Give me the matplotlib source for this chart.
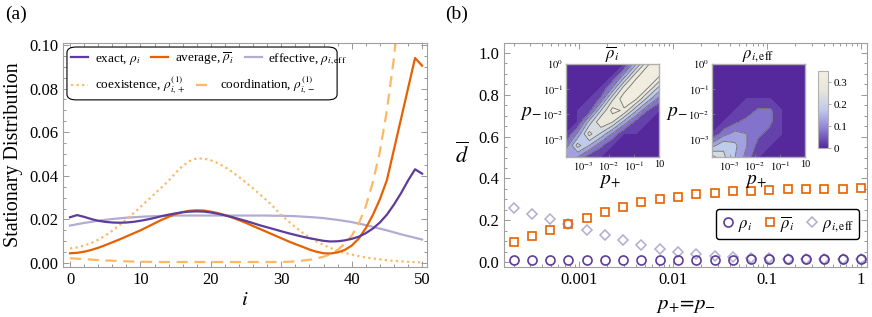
import numpy as np
import matplotlib
matplotlib.use('Agg')
import matplotlib.pyplot as plt
from matplotlib.colors import LinearSegmentedColormap, Normalize
from matplotlib.patches import FancyBboxPatch
from matplotlib.ticker import MultipleLocator, FixedLocator, NullFormatter, LogLocator, FormatStrFormatter
import matplotlib.cm as cm

plt.rcParams['font.family'] = ['Liberation Serif', 'DejaVu Serif']
plt.rcParams['mathtext.fontset'] = 'stix'

# ---- panel (a): stationary distributions ----
i_vals = np.arange(51)
exact = [0.0210, 0.0220, 0.0212, 0.0202, 0.0194, 0.0189, 0.0186, 0.0185, 0.0186, 0.0189,
         0.0194, 0.0200, 0.0207, 0.0215, 0.0222, 0.0228, 0.0233, 0.0236, 0.0237, 0.0236,
         0.0232, 0.0226, 0.0219, 0.0211, 0.0202, 0.0193, 0.0183, 0.0173, 0.0164, 0.0155,
         0.0146, 0.0137, 0.0129, 0.0121, 0.0114, 0.0108, 0.0102, 0.0099, 0.0100, 0.0104,
         0.0111, 0.0121, 0.0137, 0.0158, 0.0186, 0.0222, 0.0268, 0.0320, 0.0378, 0.0430, 0.0410]
average = [0.0045, 0.0047, 0.0052, 0.0060, 0.0070, 0.0082, 0.0095, 0.0108, 0.0122, 0.0136,
           0.0150, 0.0166, 0.0182, 0.0198, 0.0212, 0.0225, 0.0234, 0.0240, 0.0242, 0.0241,
           0.0236, 0.0229, 0.0220, 0.0209, 0.0197, 0.0184, 0.0170, 0.0156, 0.0142, 0.0128,
           0.0114, 0.0100, 0.0087, 0.0075, 0.0062, 0.0052, 0.0045, 0.0044, 0.0049, 0.0060,
           0.0080, 0.0112, 0.0160, 0.0220, 0.0292, 0.0380, 0.0520, 0.0660, 0.0800, 0.0940, 0.0905]
effective = [0.0172, 0.0178, 0.0184, 0.0189, 0.0194, 0.0198, 0.0202, 0.0205, 0.0208, 0.0210,
             0.0212, 0.0214, 0.0215, 0.0216, 0.0217, 0.0218, 0.0218, 0.0218, 0.0218, 0.0218,
             0.0218, 0.0218, 0.0218, 0.0218, 0.0218, 0.0218, 0.0218, 0.0218, 0.0218, 0.0217,
             0.0217, 0.0216, 0.0215, 0.0213, 0.0211, 0.0209, 0.0206, 0.0202, 0.0198, 0.0193,
             0.0188, 0.0181, 0.0174, 0.0166, 0.0158, 0.0150, 0.0141, 0.0132, 0.0124, 0.0116, 0.0108]
coexist = [0.0067, 0.0072, 0.0080, 0.0092, 0.0107, 0.0126, 0.0148, 0.0173, 0.0200, 0.0228,
           0.0257, 0.0287, 0.0317, 0.0347, 0.0377, 0.0414, 0.0445, 0.0468, 0.0480, 0.0479,
           0.0471, 0.0458, 0.0440, 0.0419, 0.0395, 0.0369, 0.0342, 0.0314, 0.0286, 0.0254,
           0.0220, 0.0192, 0.0165, 0.0140, 0.0118, 0.0099, 0.0083, 0.0069, 0.0057, 0.0047,
           0.0039, 0.0032, 0.0026, 0.0021, 0.0017, 0.0013, 0.0010, 0.0008, 0.0006, 0.0004, 0.0003]
coord = [0.0022, 0.0020, 0.0018, 0.0016, 0.0014, 0.0012, 0.0011, 0.0009, 0.0008, 0.0007,
         0.0006, 0.0006, 0.0005, 0.0005, 0.0005, 0.0005, 0.0005, 0.0005, 0.0005, 0.0005,
         0.0005, 0.0005, 0.0005, 0.0005, 0.0005, 0.0005, 0.0005, 0.0005, 0.0005, 0.0005,
         0.0005, 0.0006, 0.0008, 0.0011, 0.0015, 0.0021, 0.0029, 0.0041, 0.0060, 0.0088,
         0.0125, 0.0180, 0.0260, 0.0370, 0.0510, 0.0700, 0.0940, 0.1250, 0.1700, 0.2300, 0.3000]

# ---- panel (b): mean d vs p+=p- ----
p_vals = [0.0002, 0.000312, 0.000489, 0.000766, 0.0012, 0.00188, 0.00294, 0.0046, 0.00721, 0.0113,
          0.0177, 0.0277, 0.0433, 0.0679, 0.106, 0.166, 0.261, 0.408, 0.639, 1.0]
d_exact = [0.008, 0.008, 0.008, 0.008, 0.008, 0.009, 0.009, 0.009, 0.010, 0.010,
           0.010, 0.011, 0.011, 0.012, 0.012, 0.013, 0.013, 0.014, 0.015, 0.016]
d_avg = [0.095, 0.125, 0.155, 0.183, 0.210, 0.240, 0.263, 0.285, 0.300, 0.313,
         0.325, 0.332, 0.338, 0.342, 0.345, 0.347, 0.348, 0.349, 0.350, 0.352]
d_eff = [0.256, 0.229, 0.205, 0.181, 0.154, 0.130, 0.106, 0.082, 0.062, 0.048,
         0.036, 0.030, 0.025, 0.021, 0.018, 0.016, 0.015, 0.014, 0.014, 0.014]

# inset grids, log10(p+) columns, log10(p-) rows
log_p = [-3.7, -3.24, -2.78, -2.31, -1.85, -1.39, -0.93, -0.46, 0.0]
grid_avg = [[0.16, 0.10, 0.02, 0, 0, 0, 0, 0, 0],
            [0.07, 0.22, 0.15, 0.06, 0, 0, 0, 0, 0],
            [0, 0.11, 0.27, 0.19, 0.09, 0, 0, 0, 0],
            [0, 0, 0.17, 0.30, 0.25, 0.13, 0.03, 0, 0],
            [0, 0, 0.02, 0.20, 0.32, 0.29, 0.16, 0.05, 0],
            [0, 0, 0, 0.06, 0.24, 0.335, 0.31, 0.18, 0.08],
            [0, 0, 0, 0, 0.10, 0.27, 0.34, 0.31, 0.19],
            [0, 0, 0, 0, 0, 0.12, 0.28, 0.345, 0.31],
            [0, 0, 0, 0, 0, 0, 0.14, 0.29, 0.345]]
grid_eff = [[0.27, 0.21, 0.15, 0.08, 0, 0, 0, 0, 0],
            [0.13, 0.19, 0.16, 0.10, 0.03, 0, 0, 0, 0],
            [0, 0.08, 0.12, 0.10, 0.06, 0.03, 0, 0, 0],
            [0, 0, 0.04, 0.07, 0.07, 0.06, 0, 0, 0],
            [0, 0, 0, 0.02, 0.06, 0.06, 0, 0, 0],
            [0, 0, 0, 0, 0, 0, 0, 0, 0],
            [0, 0, 0, 0, 0, 0, 0, 0, 0],
            [0, 0, 0, 0, 0, 0, 0, 0, 0],
            [0, 0, 0, 0, 0, 0, 0, 0, 0]]

c_purple = '#5e3c99'
c_orange = '#e66101'
c_lav = '#b2abd2'
c_light = '#fdb863'
frame_c = '#a0a0a0'

fig = plt.figure(figsize=(8.72, 3.17), dpi=100)


def style_frame(ax):
    for s in ax.spines.values():
        s.set_color(frame_c)
        s.set_linewidth(0.8)
    ax.tick_params(which='both', direction='in', top=True, right=True, color='#888888',
                   labelsize=12, width=0.6)
    ax.tick_params(which='major', length=4)
    ax.tick_params(which='minor', length=2)


# ---------- (a) ----------
ax1 = fig.add_axes([0.0722, 0.1577, 0.4175, 0.7067])
ax1.plot(i_vals, effective, color=c_lav, lw=1.6)
ax1.plot(i_vals, coexist, color=c_light, lw=1.6, ls=(0, (1, 1.5)))
ax1.plot(i_vals, coord, color=c_light, lw=1.6, ls=(0, (5, 3)))
ax1.plot(i_vals, average, color=c_orange, lw=1.6)
ax1.plot(i_vals, exact, color=c_purple, lw=1.6)
ax1.set_xlim(-1, 50.7)
ax1.set_ylim(-0.0018, 0.1009)
ax1.xaxis.set_major_locator(MultipleLocator(10))
ax1.xaxis.set_minor_locator(MultipleLocator(2))
ax1.yaxis.set_major_locator(MultipleLocator(0.02))
ax1.yaxis.set_minor_locator(MultipleLocator(0.005))
ax1.yaxis.set_major_formatter(FormatStrFormatter('%.2f'))
style_frame(ax1)
ax1.set_xlabel(r'$i$', fontsize=15, labelpad=2)
ax1.set_ylabel('Stationary Distribution', fontsize=14.5, labelpad=4)

lh = ax1.get_lines()
leg1 = ax1.legend([lh[4], lh[3], lh[0]],
                  [r'exact, $\rho_i$', r'average, $\overline{\rho}_i$', r'effective, $\rho_{i,\mathrm{eff}}$'],
                  ncol=3, loc='upper left', bbox_to_anchor=(0.012, 0.985), frameon=False,
                  fontsize=9.5, handlelength=1.3, handletextpad=0.5, columnspacing=0.8,
                  borderaxespad=0, borderpad=0.3)
ax1.add_artist(leg1)
ax1.legend([lh[1], lh[2]],
           [r'coexistence, $\rho^{(1)}_{i,+}$', r'coordination, $\rho^{(1)}_{i,-}$'],
           ncol=2, loc='upper left', bbox_to_anchor=(0.012, 0.875), frameon=False,
           fontsize=9.5, handlelength=1.3, handletextpad=0.5, columnspacing=0.8,
           borderaxespad=0, borderpad=0.3)
ax1.add_patch(FancyBboxPatch((0.011, 0.746), 0.742, 0.236,
                             boxstyle='round,pad=0,rounding_size=0.025',
                             transform=ax1.transAxes, fc='white', ec='black', lw=0.8, zorder=4))

# ---------- (b) ----------
ax2 = fig.add_axes([0.578, 0.1577, 0.4163, 0.7067])
ax2.set_xscale('log')
ax2.plot(p_vals, d_eff, 'D', mfc='none', mec=c_lav, ms=5, mew=1.1, label=r'$\rho_{i,\mathrm{eff}}$', zorder=3)
ax2.plot(p_vals, d_avg, 's', mfc='none', mec=c_orange, ms=6, mew=1.2, label=r'$\overline{\rho}_i$', zorder=4)
ax2.plot(p_vals, d_exact, 'o', mfc='none', mec=c_purple, ms=6.5, mew=1.2, label=r'$\rho_i$', zorder=5)
ax2.set_xlim(10 ** -3.8, 10 ** 0.064)
ax2.set_ylim(-0.024, 1.048)
ax2.xaxis.set_major_locator(FixedLocator([0.001, 0.01, 0.1, 1]))
ax2.set_xticklabels(['0.001', '0.01', '0.1', '1'])
ax2.xaxis.set_minor_locator(LogLocator(base=10, subs=np.arange(2, 10)))
ax2.xaxis.set_minor_formatter(NullFormatter())
ax2.yaxis.set_major_locator(MultipleLocator(0.2))
ax2.yaxis.set_minor_locator(MultipleLocator(0.05))
ax2.yaxis.set_major_formatter(FormatStrFormatter('%.1f'))
style_frame(ax2)
ax2.set_xlabel(r'$p_{+}\!=\!p_{-}$', fontsize=15, labelpad=6)
ax2.set_ylabel(r'$\overline{d}$', fontsize=16, rotation=0, labelpad=12, va='center')
h = ax2.get_lines()
ax2.legend([h[2], h[1], h[0]], [r'$\rho_i$', r'$\overline{\rho}_i$', r'$\rho_{i,\mathrm{eff}}$'],
           ncol=3, loc='lower right', bbox_to_anchor=(0.978, 0.124), fontsize=12,
           edgecolor='black', fancybox=True, framealpha=1, handletextpad=0.15,
           columnspacing=0.6, borderpad=0.3, handlelength=0.9, borderaxespad=0)

# insets
cmap = LinearSegmentedColormap.from_list('pu', ['#55289c', '#8d80d6', '#bfcbea', '#e8e5da', '#f3efe1'],
                                         N=256)
levels = np.arange(0, 0.4001, 0.05)
norm = Normalize(0, 0.35)
for left, grid, title in [(0.6491, grid_avg, r'$\overline{\rho}_i$'),
                          (0.8165, grid_eff, r'$\rho_{i,\mathrm{eff}}$')]:
    ia = fig.add_axes([left, 0.5047, 0.1067, 0.2934])
    ia.contourf(log_p, log_p, grid, levels=levels, cmap=cmap, norm=norm, extend='min')
    ia.contour(log_p, log_p, grid, levels=levels[1:], colors='#707070', linewidths=0.6)
    ia.set_xlim(-3.7, 0)
    ia.set_ylim(-3.7, 0)
    ia.set_xticks([-3, -2, -1, 0])
    ia.set_xticklabels([r'$10^{-3}$', r'$10^{-2}$', r'$10^{-1}$', '10'])
    ia.set_yticks([-3, -2, -1, 0])
    ia.set_yticklabels([r'$10^{-3}$', r'$10^{-2}$', r'$10^{-1}$', r'$10^{0}$'])
    ia.tick_params(direction='in', length=2, width=0.5, color='#888888', labelsize=7.5, pad=2)
    for s in ia.spines.values():
        s.set_color('#b0b0b0')
        s.set_linewidth(1.0)
    ia.text(0.5, 1.0, title, transform=ia.transAxes, ha='center', va='bottom', fontsize=12)
    ia.text(-0.38, 0.47, r'$p_{-}$', transform=ia.transAxes, ha='center', va='center', fontsize=14)
    ia.text(0.47, -0.26, r'$p_{+}$', transform=ia.transAxes, ha='center', va='center', fontsize=14)

cax = fig.add_axes([0.938, 0.5331, 0.0115, 0.2429])
cb = fig.colorbar(cm.ScalarMappable(norm=norm, cmap=cmap), cax=cax, ticks=[0, 0.1, 0.2, 0.3])
cb.ax.set_yticklabels(['0', '0.1', '0.2', '0.3'])
cb.ax.tick_params(labelsize=8, length=2, width=0.5, color='#888888', pad=2)
cb.outline.set_edgecolor('#b0b0b0')

fig.text(0.006, 0.955, '(a)', fontsize=14, va='center')
fig.text(0.51, 0.955, '(b)', fontsize=14, va='center')

fig.savefig('out.png', dpi=100)
